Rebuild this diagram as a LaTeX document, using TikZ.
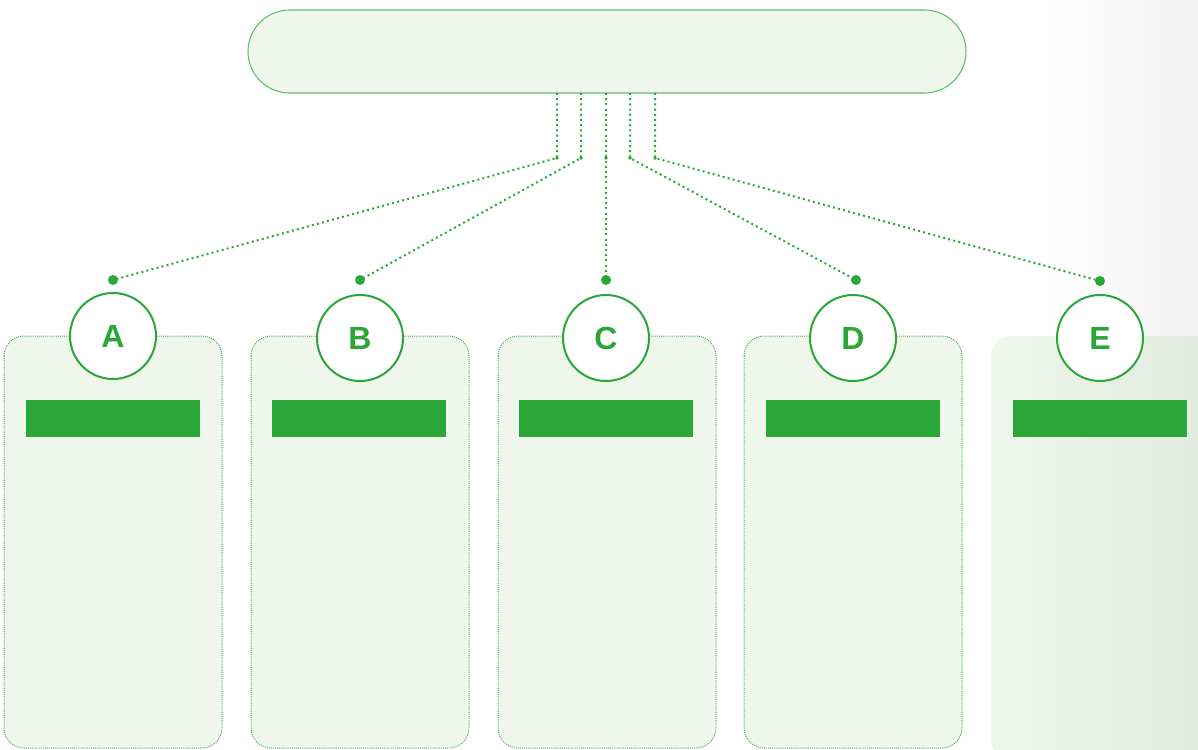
\documentclass[tikz,border=0pt]{standalone}
\usepackage{fontspec}
\setmainfont{Liberation Sans}
\definecolor{gmain}{RGB}{43,166,57}
\definecolor{gline}{RGB}{100,190,108}
\definecolor{gdot}{RGB}{70,175,82}
\definecolor{gfill}{RGB}{239,246,236}
\definecolor{gfillR}{RGB}{225,234,222}
\definecolor{bggray}{RGB}{241,241,241}
\tikzset{
  conn/.style={gmain, line width=2pt, dash pattern=on 2pt off 3.2pt},
  panel/.style={fill=gfill, draw=gdot, line width=1pt, dash pattern=on 1pt off 1.1pt, rounded corners=20pt},
  panelE/.style={left color=gfill, right color=gfillR, rounded corners=20pt},
  bar/.style={fill=gmain},
  badge/.style={circle, draw=gmain, line width=2pt, fill=white, minimum size=86pt, inner sep=0pt,
    text=gmain, font=\bfseries\fontsize{32}{32}\selectfont},
  enddot/.style={circle, fill=gmain, minimum size=10pt, inner sep=0pt},
  topbox/.style={draw=gline, line width=1.1pt, fill=gfill, rounded corners=41.5pt,
    minimum width=718pt, minimum height=83pt, inner sep=0pt}
}
\begin{document}
\begin{tikzpicture}[x=1pt,y=-1pt]
\useasboundingbox (0,0) rectangle (1198,749);
% background gradient on the right
\shade[left color=white, right color=bggray] (1047,0) rectangle (1198,749);
% top box
\node[topbox] (top) at (607,51.5) {};
% panels
\path[panel] (4,336) rectangle (222,748);
\path[panel] (251,336) rectangle (469,748);
\path[panel] (498,336) rectangle (716,748);
\path[panel] (744,336) rectangle (962,748);
\path[panelE] (991,336) rectangle (1215,760);
% bars
\fill[bar] (26,400) rectangle (200,437);
\fill[bar] (272,400) rectangle (446,437);
\fill[bar] (519,400) rectangle (693,437);
\fill[bar] (766,400) rectangle (940,437);
\fill[bar] (1013,400) rectangle (1187,437);
% connector points
\coordinate (s1) at (557,93);
\coordinate (s2) at (581,93);
\coordinate (s3) at (606,93);
\coordinate (s4) at (630,93);
\coordinate (s5) at (655,93);
\coordinate (k1) at (557,158);
\coordinate (k2) at (581,158);
\coordinate (k3) at (606,158);
\coordinate (k4) at (630,158);
\coordinate (k5) at (655,158);
% end dots
\node[enddot] (dA) at (113,280) {};
\node[enddot] (dB) at (360,280) {};
\node[enddot] (dC) at (606,280) {};
\node[enddot] (dD) at (856,280) {};
\node[enddot] (dE) at (1100,281) {};
% connectors
\draw[conn] (s1) -- (k1) -- (dA.center);
\draw[conn] (s2) -- (k2) -- (dB.center);
\draw[conn] (s3) -- (k3) -- (dC.center);
\draw[conn] (s4) -- (k4) -- (dD.center);
\draw[conn] (s5) -- (k5) -- (dE.center);
\fill[gmain] (k1) circle (1.8pt) (k2) circle (1.8pt) (k3) circle (1.8pt) (k4) circle (1.8pt) (k5) circle (1.8pt);
% badges
\node[badge] (A) at (113,336) {A};
\node[badge] (B) at (360,338) {B};
\node[badge] (C) at (606,338) {C};
\node[badge] (D) at (853,338) {D};
\node[badge] (E) at (1100,338) {E};
\end{tikzpicture}
\end{document}
